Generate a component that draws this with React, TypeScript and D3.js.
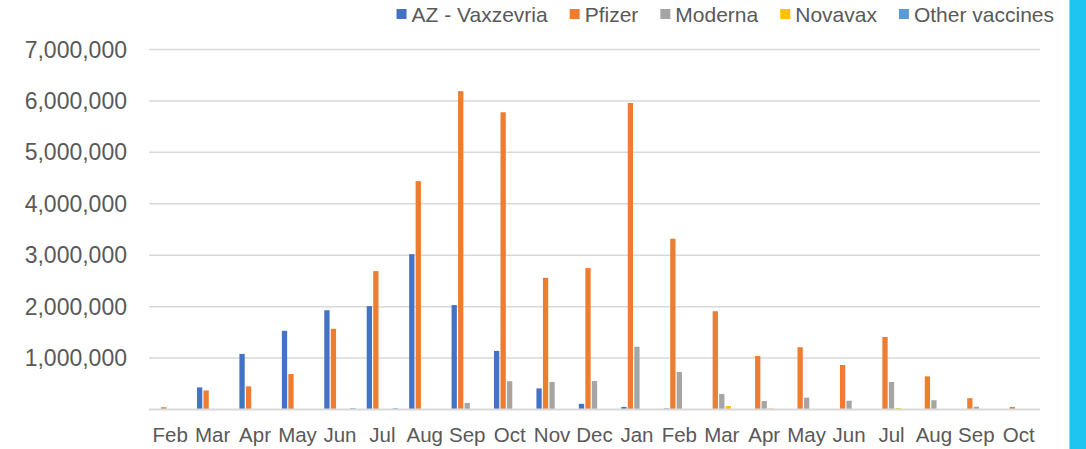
import React from 'react';
import * as d3 from 'd3';

const months = ['Feb', 'Mar', 'Apr', 'May', 'Jun', 'Jul', 'Aug', 'Sep', 'Oct', 'Nov', 'Dec',
  'Jan', 'Feb', 'Mar', 'Apr', 'May', 'Jun', 'Jul', 'Aug', 'Sep', 'Oct'];

const seriesNames = ['AZ - Vaxzevria', 'Pfizer', 'Moderna', 'Novavax', 'Other vaccines'];
const seriesColors = ['#4472C4', '#ED7D31', '#A5A5A5', '#FFC000', '#5B9BD5'];

const az = [0, 430000, 1080000, 1530000, 1930000, 2010000, 3020000, 2030000, 1140000, 410000, 110000,
  50000, 20000, 0, 0, 0, 0, 0, 0, 0, 0];
const pfizer = [45000, 370000, 450000, 690000, 1570000, 2690000, 4440000, 6190000, 5780000, 2560000, 2750000,
  5960000, 3320000, 1910000, 1040000, 1210000, 865000, 1410000, 645000, 220000, 50000];
const moderna = [0, 0, 0, 0, 0, 0, 10000, 126000, 550000, 535000, 555000,
  1220000, 730000, 300000, 165000, 230000, 170000, 535000, 180000, 55000, 0];
const novavax = [0, 0, 0, 0, 0, 0, 0, 0, 0, 0, 0,
  0, 10000, 70000, 20000, 5000, 0, 30000, 5000, 0, 0];
const other = [0, 0, 5000, 10000, 25000, 25000, 10000, 0, 0, 0, 0,
  0, 0, 0, 0, 0, 0, 0, 0, 0, 0];

const yTicks = [1000000, 2000000, 3000000, 4000000, 5000000, 6000000, 7000000];

const allSeries = [az, pfizer, moderna, novavax, other];

const W = 1086;
const H = 449;
const FONT = '"Liberation Sans", Arial, sans-serif';
const TEXT = '#595959';

function measure(text: string, size: number) {
  const c = document.createElement('canvas').getContext('2d');
  if (!c) return text.length * size * 0.55;
  c.font = `${size}px ${FONT}`;
  return c.measureText(text).width;
}

export default function App() {
  const x0 = d3.scaleBand<number>()
    .domain(months.map((_, i) => i))
    .range([149, 1040]);
  const x1 = d3.scaleBand<string>()
    .domain(seriesNames)
    .range([0, 31.3])
    .paddingInner(0.185);
  const groupOffset = (x0.bandwidth() - 31.3) / 2;
  const y = d3.scaleLinear().domain([0, 7000000]).range([409.5, 49.5]);
  const fmt = d3.format(',');

  // legend laid out right-aligned, ending at x=1054
  const legendSize = 21;
  const widths = seriesNames.map(n => measure(n, legendSize));
  const total = widths.reduce((a, b) => a + b, 0) + seriesNames.length * 15 + (seriesNames.length - 1) * 22;
  let lx = 1054 - total;
  const legendItems = seriesNames.map((n, i) => {
    const item = { name: n, x: lx, color: seriesColors[i] };
    lx += 15 + widths[i] + 22;
    return item;
  });

  return (
    <svg width={W} height={H} style={{ position: 'absolute', left: 0, top: 0, background: '#fff' }}
      fontFamily={FONT}>
      <rect x={0} y={0} width={W} height={H} fill="#fff" />

      {/* gridlines */}
      {yTicks.map(t => (
        <line key={t} x1={149} x2={1040} y1={y(t)} y2={y(t)} stroke="#D9D9D9" strokeWidth={1.5} />
      ))}
      {yTicks.map(t => (
        <text key={'l' + t} x={127} y={y(t) + 8} textAnchor="end" fontSize={23} fill={TEXT}>
          {fmt(t)}
        </text>
      ))}

      {/* bars */}
      {months.map((m, i) => (
        <g key={i} transform={`translate(${(x0(i) ?? 0) + groupOffset},0)`}>
          {allSeries.map((s, j) => s[i] > 0 ? (
            <rect key={j} x={x1(seriesNames[j])} width={x1.bandwidth()}
              y={y(s[i])} height={y(0) - y(s[i])} fill={seriesColors[j]} />
          ) : null)}
        </g>
      ))}

      {/* axis line */}
      <line x1={149} x2={1040} y1={y(0)} y2={y(0)} stroke="#D9D9D9" strokeWidth={2} />

      {months.map((m, i) => (
        <text key={'m' + i} x={(x0(i) ?? 0) + x0.bandwidth() / 2} y={442} textAnchor="middle"
          fontSize={20.5} fill={TEXT}>
          {m}
        </text>
      ))}

      {/* legend */}
      {legendItems.map(it => (
        <g key={it.name}>
          <rect x={it.x} y={9} width={10} height={10} fill={it.color} />
          <text x={it.x + 15} y={21.5} fontSize={legendSize} fill={TEXT}>{it.name}</text>
        </g>
      ))}

      {/* cyan stripe at right edge */}
      <rect x={1069} y={0} width={17} height={H} fill="#1DC5F0" />
      <line x1={1069.5} x2={1069.5} y1={0} y2={H} stroke="#7FDDF6" strokeWidth={1} />
    </svg>
  );
}
